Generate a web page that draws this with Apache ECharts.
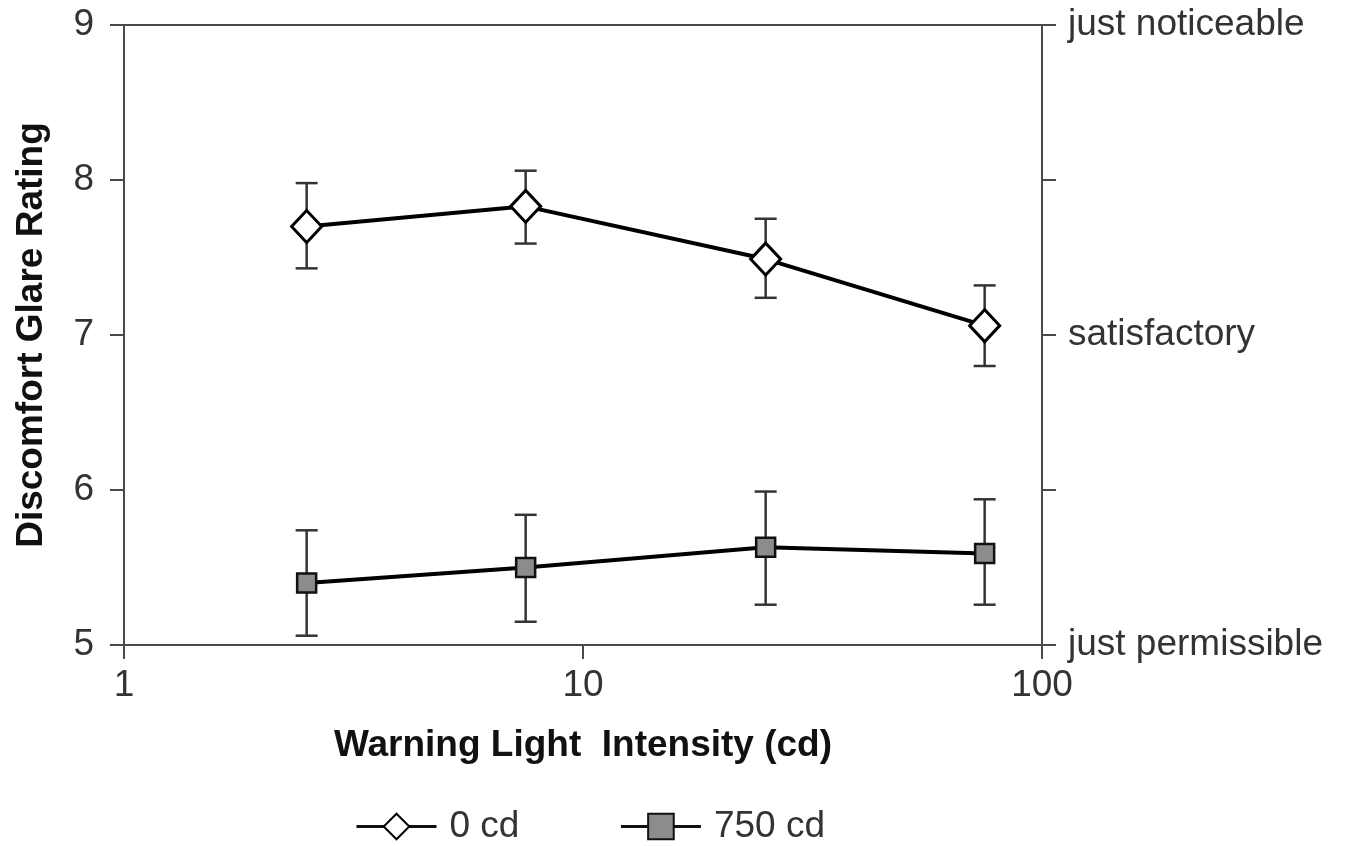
<!DOCTYPE html>
<html>
<head>
<meta charset="utf-8">
<script src="https://cdn.jsdelivr.net/npm/echarts@6/dist/echarts.min.js"></script>
<style>
  html, body { margin: 0; padding: 0; background: #fff; }
  #chart { width: 1347px; height: 846px; }
</style>
</head>
<body>
<div id="chart"></div>
<script>
// 光强 (cd)，对数坐标
var intensity = [2.5, 7.5, 25, 75]
var seriesNames = ['0 cd', '750 cd']
// 平均评分
var mean0 = [7.70, 7.83, 7.49, 7.06]
var mean750 = [5.40, 5.50, 5.63, 5.59]
// 误差线上下限
var upper0 = [7.98, 8.06, 7.75, 7.32]
var lower0 = [7.43, 7.59, 7.24, 6.80]
var upper750 = [5.74, 5.84, 5.99, 5.94]
var lower750 = [5.06, 5.15, 5.26, 5.26]
// 右侧文字刻度
var rightLabels = { 9: 'just noticeable', 7: 'satisfactory', 5: 'just permissible' }

var chart = echarts.init(document.getElementById('chart'))
var font = 'Liberation Sans, Arial, sans-serif'
var axisColor = '#4a4a4a'
var fs = 37

function pairs(ys) {
  return intensity.map(function(x, i) { return [x, ys[i]] })
}

function errData(lo, hi) {
  return intensity.map(function(x, i) { return [x, lo[i], hi[i]] })
}

function renderErr(params, api) {
  var lo = api.coord([api.value(0), api.value(1)])
  var hi = api.coord([api.value(0), api.value(2)])
  var cap = 11
  var style = { stroke: '#333', lineWidth: 2.5, fill: null }
  return {
    type: 'group',
    children: [
      { type: 'line', shape: { x1: lo[0], y1: lo[1], x2: hi[0], y2: hi[1] }, style: style },
      { type: 'line', shape: { x1: lo[0] - cap, y1: lo[1], x2: lo[0] + cap, y2: lo[1] }, style: style },
      { type: 'line', shape: { x1: hi[0] - cap, y1: hi[1], x2: hi[0] + cap, y2: hi[1] }, style: style }
    ]
  }
}

chart.setOption({
  backgroundColor: '#fff',
  animation: false,
  textStyle: { fontFamily: font },
  legend: {
    bottom: -4,
    left: 350,
    itemWidth: 80,
    itemHeight: 32,
    itemGap: 100,
    data: seriesNames,
    lineStyle: { width: 3, color: '#111' },
    textStyle: { fontSize: fs, color: '#333', fontFamily: font, padding: [0, 0, 0, 8] }
  },
  grid: {
    left: 124,
    right: 305,
    top: 25,
    bottom: 201
  },
  xAxis: [{
    type: 'log',
    logBase: 10,
    min: 1,
    max: 100,
    name: 'Warning Light  Intensity (cd)',
    nameLocation: 'middle',
    nameGap: 82,
    nameTextStyle: { fontSize: fs, fontWeight: 'bold', color: '#111', fontFamily: font },
    axisLine: { lineStyle: { color: axisColor, width: 2 } },
    axisTick: { show: true, inside: false, length: 14, lineStyle: { color: axisColor, width: 2 } },
    axisLabel: { fontSize: fs, color: '#333', margin: 22 },
    minorTick: { show: false },
    splitLine: { show: false }
  }, {
    type: 'log',
    position: 'top',
    min: 1,
    max: 100,
    axisLine: { show: true, lineStyle: { color: axisColor, width: 2 } },
    axisTick: { show: false },
    axisLabel: { show: false },
    splitLine: { show: false }
  }],
  yAxis: [{
    type: 'value',
    min: 5,
    max: 9,
    interval: 1,
    name: 'Discomfort Glare Rating',
    nameLocation: 'middle',
    nameGap: 74,
    nameTextStyle: { fontSize: fs, fontWeight: 'bold', color: '#111', fontFamily: font },
    axisLine: { show: true, lineStyle: { color: axisColor, width: 2 } },
    axisTick: { show: true, inside: false, length: 14, lineStyle: { color: axisColor, width: 2 } },
    axisLabel: { fontSize: fs, color: '#333', margin: 30 },
    splitLine: { show: false }
  }, {
    type: 'value',
    position: 'right',
    min: 5,
    max: 9,
    interval: 1,
    axisLine: { show: true, lineStyle: { color: axisColor, width: 2 } },
    axisTick: { show: true, inside: false, length: 14, lineStyle: { color: axisColor, width: 2 } },
    axisLabel: {
      fontSize: fs,
      color: '#333',
      margin: 26,
      formatter: function(v) { return rightLabels[v] || '' }
    },
    splitLine: { show: false }
  }],
  series: [{
    type: 'custom',
    renderItem: renderErr,
    data: errData(lower0, upper0),
    z: 1,
    silent: true
  }, {
    type: 'custom',
    renderItem: renderErr,
    data: errData(lower750, upper750),
    z: 1,
    silent: true
  }, {
    name: seriesNames[0],
    type: 'line',
    data: pairs(mean0),
    symbol: 'diamond',
    symbolSize: [30, 32],
    z: 3,
    lineStyle: { color: '#000', width: 4 },
    itemStyle: { color: '#fff', borderColor: '#000', borderWidth: 3 }
  }, {
    name: seriesNames[1],
    type: 'line',
    data: pairs(mean750),
    symbol: 'rect',
    symbolSize: 19,
    z: 3,
    lineStyle: { color: '#000', width: 4 },
    itemStyle: { color: '#8c8c8c', borderColor: '#111', borderWidth: 2.5 }
  }]
})
</script>
</body>
</html>
